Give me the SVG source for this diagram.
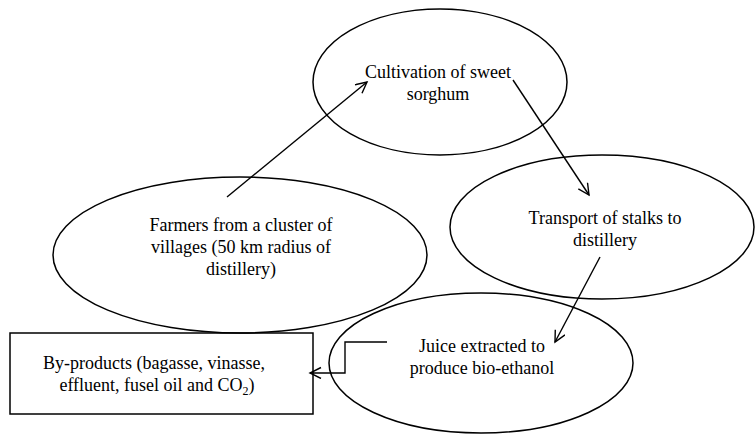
<svg xmlns="http://www.w3.org/2000/svg" width="755" height="438" viewBox="0 0 755 438">
<defs>
<marker id="arr" markerWidth="14" markerHeight="14" refX="12" refY="6" orient="auto" markerUnits="userSpaceOnUse">
<path d="M1,0.5 L12,6 L1,11.5" fill="none" stroke="#000" stroke-width="1.4"/>
</marker>
<style>
.shape{fill:none;stroke:#000;stroke-width:1.5}
.lbl{font-family:"Liberation Serif","Times New Roman",serif;font-size:18px;fill:#000;text-anchor:middle}
.conn{fill:none;stroke:#000;stroke-width:1.4;marker-end:url(#arr)}
</style>
</defs>
<rect width="755" height="438" fill="#fff"/>
<g id="node-cultivation">
<ellipse class="shape" cx="440" cy="82" rx="127" ry="73"/>
<text class="lbl" x="438" y="78">Cultivation of sweet</text>
<text class="lbl" x="438" y="100">sorghum</text>
</g>
<g id="node-farmers">
<ellipse class="shape" cx="240" cy="255" rx="187" ry="78"/>
<text class="lbl" x="241" y="231">Farmers from a cluster of</text>
<text class="lbl" x="241" y="253">villages (50 km radius of</text>
<text class="lbl" x="241" y="275">distillery)</text>
</g>
<g id="node-transport">
<ellipse class="shape" cx="602" cy="227" rx="152" ry="72"/>
<text class="lbl" x="605" y="224">Transport of stalks to</text>
<text class="lbl" x="605" y="246">distillery</text>
</g>
<g id="node-juice">
<ellipse class="shape" cx="481" cy="363" rx="152" ry="70"/>
<text class="lbl" x="482" y="352">Juice extracted to</text>
<text class="lbl" x="482" y="374">produce bio-ethanol</text>
</g>
<g id="node-byproducts">
<rect class="shape" x="10" y="333" width="303" height="81"/>
<text class="lbl" x="154" y="369">By-products (bagasse, vinasse,</text>
<text class="lbl" x="157" y="391">effluent, fusel oil and CO<tspan font-size="12" dy="4">2</tspan><tspan dy="-4">)</tspan></text>
</g>
<g id="connectors">
<line class="conn" x1="227" y1="197" x2="367" y2="82"/>
<line class="conn" x1="513" y1="80" x2="589" y2="195"/>
<line class="conn" x1="600" y1="257" x2="555" y2="342"/>
<polyline class="conn" points="387,342 345,342 345,373 310,373"/>
</g>
</svg>
